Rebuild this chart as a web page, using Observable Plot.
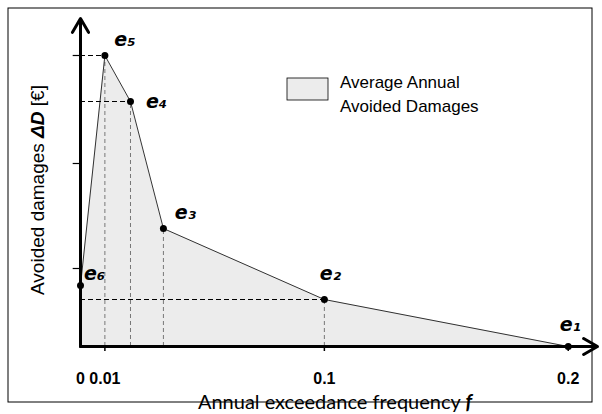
<!DOCTYPE html>
<html><head><meta charset="utf-8">
<script src="https://cdn.jsdelivr.net/npm/d3@7"></script>
<script src="https://cdn.jsdelivr.net/npm/@observablehq/plot@0.6"></script>
<style>body{margin:0;background:#fff}</style>
</head><body><div id="c"></div>
<script>
const names = ["e6","e5","e4","e3","e2","e1"];
const subs = ["₆","₅","₄","₃","₂","₁"];
const freq = [0, 0.01, 0.0205, 0.034, 0.1, 0.2];
const damage = [61, 291, 245, 118, 47, 0];
const xTicks = [0, 0.01, 0.1, 0.2];
const xTickLabels = ["0", "0.01", "0.1", "0.2"];
const yTicks = [78, 183, 291];

const pts = names.map((n,i)=>({n, s:subs[i], x:freq[i], y:damage[i]}));
const dashedV = pts.filter(d=>d.x>0 && d.y>0);
const dashedH = pts.filter(d=>["e5","e4","e2"].includes(d.n));
const labOff = {e6:[14,-12], e5:[20,-16], e4:[26,0], e3:[22,-16], e2:[6,-26], e1:[2,-22]};

const chart = Plot.plot({
  width:602, height:414, marginLeft:80, marginRight:5, marginTop:18, marginBottom:68,
  x:{type:"linear", domain:[0,0.212], axis:null},
  y:{type:"linear", domain:[0,328], axis:null},
  marks:[
    Plot.areaY(pts,{x:"x",y:"y",fill:"#ececec"}),
    Plot.ruleX(dashedV,{x:"x",y1:0,y2:"y",stroke:"#777",strokeDasharray:"4,3",strokeWidth:1}),
    Plot.ruleY(dashedH,{y:"y",x1:0,x2:"x",stroke:"#000",strokeDasharray:"5,3",strokeWidth:1}),
    Plot.lineY(pts,{x:"x",y:"y",stroke:"#000",strokeWidth:0.8}),
    Plot.ruleY(yTicks,{y:d=>d,x1:-0.003,x2:0,stroke:"#000",strokeWidth:1.2}),
    Plot.ruleX(xTicks.slice(1),{x:d=>d,y1:-5,y2:0,stroke:"#000",strokeWidth:1.5}),
    Plot.arrow([0],{x1:0,y1:0,x2:0.212,y2:0,stroke:"#000",strokeWidth:3,headLength:8}),
    Plot.arrow([0],{x1:0,y1:0,x2:0,y2:328,stroke:"#000",strokeWidth:3,headLength:8}),
    Plot.text(xTicks,{x:d=>d,y:0,text:(d,i)=>xTickLabels[i],dy:32,fontSize:16,fontWeight:"bold",fontFamily:"Liberation Sans",fill:"#000"}),
    Plot.dot(pts,{x:"x",y:"y",r:3.5,fill:"#000"}),
    ...pts.map(p=>Plot.text([p],{x:"x",y:"y",text:d=>"e"+d.s,dx:labOff[p.n][0],dy:labOff[p.n][1],fontSize:19,fontWeight:"bold",fontStyle:"italic",fontFamily:"DejaVu Sans",fill:"#000"}))
  ]
});
document.getElementById("c").appendChild(chart);
const svg = d3.select(chart);
svg.insert("rect",":first-child").attr("x",8).attr("y",8).attr("width",584).attr("height",394).attr("fill","none").attr("stroke","#000").attr("stroke-width",1);
svg.append("rect").attr("x",287).attr("y",78).attr("width",41).attr("height",22).attr("fill","#ececec").attr("stroke","#000").attr("stroke-width",0.8);
const f = "font-family:'Liberation Sans';font-size:17px;text-anchor:start";
svg.append("text").attr("x",340).attr("y",88).attr("style",f).text("Average Annual");
svg.append("text").attr("x",340).attr("y",112).attr("style",f).text("Avoided Damages");
svg.append("text").attr("x",335).attr("y",409).attr("style","font-family:Lato;font-size:20px;text-anchor:middle")
  .html("Annual exceedance frequency <tspan font-weight='bold' font-style='italic'>f</tspan>");
svg.append("text").attr("transform","translate(44,190) rotate(-90)").attr("style","font-family:'Liberation Sans';font-size:19px;text-anchor:middle")
  .html("Avoided damages <tspan font-weight='bold' font-style='italic'>ΔD</tspan> [€]");
</script></body></html>
